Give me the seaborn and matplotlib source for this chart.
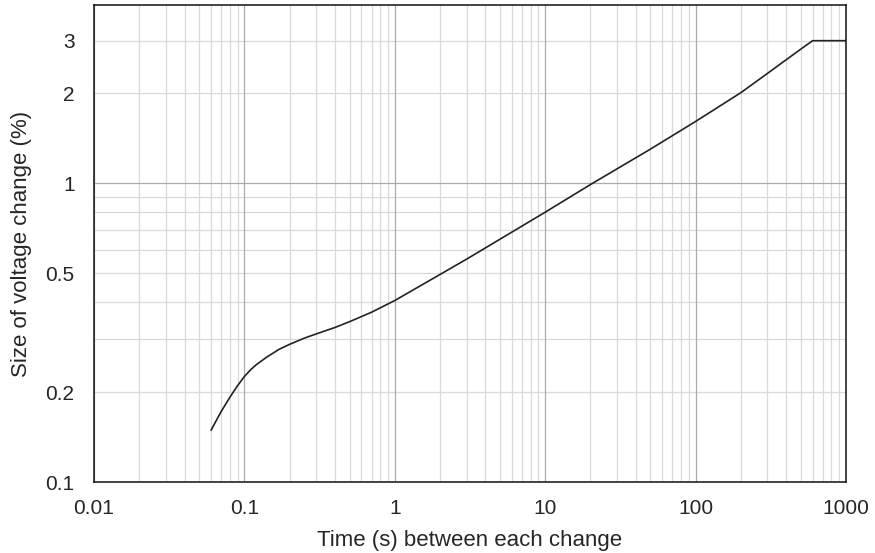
import numpy as np
import pandas as pd
import matplotlib
matplotlib.use("Agg")
import matplotlib.pyplot as plt
import matplotlib.ticker as mticker
import seaborn as sns

# curve (log-log)
time_s = [0.06, 0.07, 0.08, 0.09, 0.1, 0.11, 0.12, 0.141, 0.17, 0.2, 0.25, 0.3, 0.4, 0.5, 0.7,
          1, 3, 10, 20, 50, 100, 200, 300, 400, 500, 600, 1000]
voltage_pct = [0.149, 0.172, 0.192, 0.21, 0.2255, 0.2375, 0.247, 0.262, 0.278, 0.289, 0.303, 0.313,
               0.329, 0.344, 0.37, 0.405, 0.557, 0.80, 0.99, 1.30, 1.61, 2.01, 2.33, 2.59, 2.81,
               3.0, 3.0]

x_ticks = [0.01, 0.1, 1, 10, 100, 1000]
x_labels = ["0.01", "0.1", "1", "10", "100", "1000"]
y_ticks = [0.1, 0.2, 0.5, 1, 2, 3]
y_labels = ["0.1", "0.2", "0.5", "1", "2", "3"]
y_grid = [0.2, 0.3, 0.4, 0.5, 0.6, 0.7, 0.8, 0.9, 2, 3]

df = pd.DataFrame({"time": time_s, "size": voltage_pct})

sns.set_style("white")
plt.rcParams["font.family"] = ["Liberation Sans", "DejaVu Sans"]

fig = plt.figure(figsize=(8.75, 5.53), dpi=100)
ax = fig.add_axes([94 / 875, 1 - 482 / 553, (846 - 94) / 875, (482 - 5) / 553])

ax.set_xscale("log")
ax.set_yscale("log")
ax.set_xlim(0.01, 1000)
ax.set_ylim(0.1, 3.95)

# x grid: decades darker, sub-decades light
ax.xaxis.set_major_locator(mticker.FixedLocator(x_ticks))
ax.xaxis.set_major_formatter(mticker.FixedFormatter(x_labels))
ax.xaxis.set_minor_locator(mticker.LogLocator(base=10, subs=np.arange(2, 10)))
ax.xaxis.set_minor_formatter(mticker.NullFormatter())
ax.grid(True, axis="x", which="major", color="#ababab", linewidth=0.9)
ax.grid(True, axis="x", which="minor", color="#d9d9d9", linewidth=0.9)

# y grid: light lines, 1 darker
ax.yaxis.set_major_locator(mticker.FixedLocator(y_ticks))
ax.yaxis.set_major_formatter(mticker.FixedFormatter(y_labels))
ax.yaxis.set_minor_locator(mticker.NullLocator())
for v in y_grid:
    ax.axhline(v, color="#d9d9d9", linewidth=0.9, zorder=0.5)
ax.axhline(1, color="#ababab", linewidth=0.9, zorder=0.6)
ax.set_axisbelow(True)

sns.lineplot(data=df, x="time", y="size", ax=ax, color="#222222", linewidth=1.2)

ax.tick_params(axis="both", which="both", length=0, labelsize=15)
ax.tick_params(axis="x", pad=12)
ax.tick_params(axis="y", pad=14)

for s in ax.spines.values():
    s.set_visible(True)
    s.set_color("#111111")
    s.set_linewidth(1.1)

ax.set_xlabel("Time (s) between each change", fontsize=16, labelpad=9)
ax.set_ylabel("Size of voltage change (%)", fontsize=16, labelpad=10)

fig.savefig("out.png", dpi=100)
